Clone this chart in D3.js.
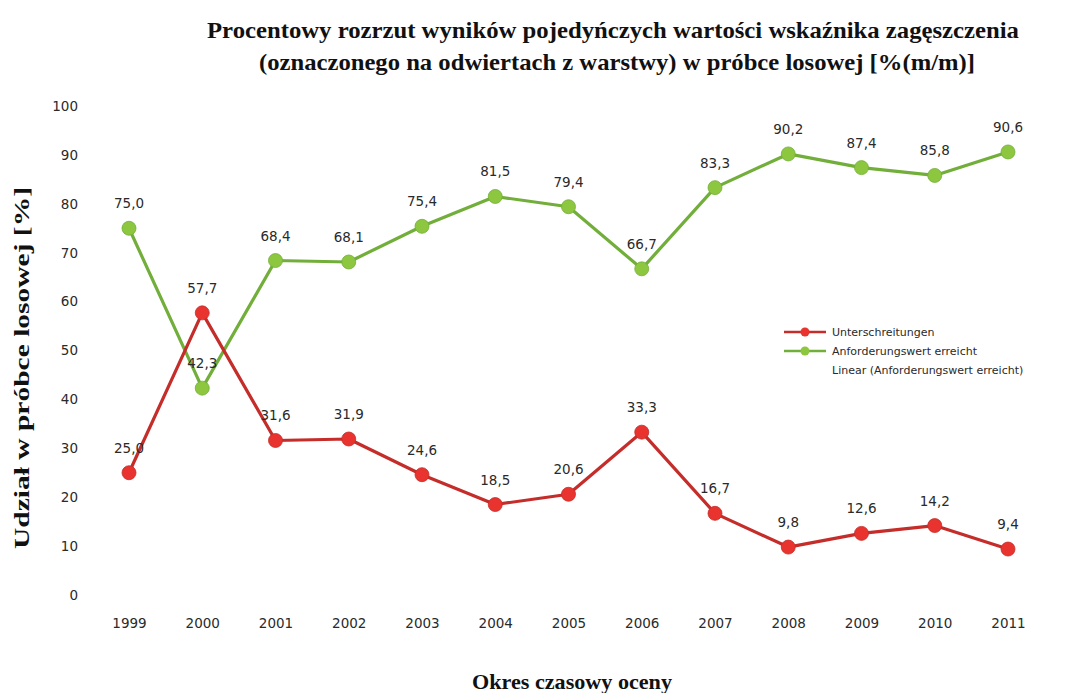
<!DOCTYPE html>
<html>
<head>
<meta charset="utf-8">
<script src="https://cdn.jsdelivr.net/npm/d3@7"></script>
<style>
  html, body { margin: 0; padding: 0; background: #fff; }
  svg { display: block; }
</style>
</head>
<body>
<svg id="chart" width="1067" height="693"></svg>
<script>
// Years of evaluation
const years = [1999, 2000, 2001, 2002, 2003, 2004, 2005, 2006, 2007, 2008, 2009, 2010, 2011];
// Share of samples below the requirement [%]
const unterschreitungen = [25.0, 57.7, 31.6, 31.9, 24.6, 18.5, 20.6, 33.3, 16.7, 9.8, 12.6, 14.2, 9.4];
// Share of samples meeting the requirement [%]
const anforderungErreicht = [75.0, 42.3, 68.4, 68.1, 75.4, 81.5, 79.4, 66.7, 83.3, 90.2, 87.4, 85.8, 90.6];
// Y axis tick values
const yTicks = [0, 10, 20, 30, 40, 50, 60, 70, 80, 90, 100];

const titleLines = [
  "Procentowy rozrzut wyników  pojedyńczych wartości wskaźnika  zagęszczenia",
  "(oznaczonego na odwiertach z warstwy)  w próbce losowej [%(m/m)]"
];
const yTitle = "Udział w próbce losowej [%]";
const xTitle = "Okres czasowy oceny";
const legendItems = ["Unterschreitungen", "Anforderungswert erreicht", "Linear (Anforderungswert erreicht)"];

const RED_LINE = "#c42d2a", RED_DOT = "#e8332f";
const GREEN_LINE = "#72ae3a", GREEN_DOT = "#8dc63f";
const TEXT = "#2a2a2a";
const SANS = "'DejaVu Sans', sans-serif";
const SERIF = "'Liberation Serif', 'Times New Roman', serif";

const svg = d3.select("#chart");

const x = d3.scalePoint().domain(years).range([129, 1008]);
const y = d3.scaleLinear().domain([0, 100]).range([595, 106]);

// Title
svg.append("g").selectAll("text").data(titleLines).join("text")
  .attr("x", (d, i) => i === 0 ? 613 : 617)
  .attr("y", (d, i) => 38 + i * 32)
  .attr("text-anchor", "middle")
  .attr("font-family", SERIF)
  .attr("font-weight", "bold")
  .attr("font-size", 23)
  .attr("fill", "#111")
  .attr("textLength", (d, i) => i === 0 ? 812 : 716)
  .attr("lengthAdjust", "spacingAndGlyphs")
  .text(d => d);

// Y axis
const yAxis = svg.append("g")
  .attr("transform", "translate(86,0)")
  .call(d3.axisLeft(y).tickValues(yTicks).tickSize(0).tickPadding(8).tickFormat(d3.format("d")));
yAxis.select(".domain").remove();
yAxis.selectAll("text")
  .attr("font-family", SANS).attr("font-size", 13.5).attr("fill", TEXT);

// X axis
const xAxis = svg.append("g")
  .attr("transform", "translate(0,612)")
  .call(d3.axisBottom(x).tickSize(0).tickPadding(6).tickFormat(d3.format("d")));
xAxis.select(".domain").remove();
xAxis.selectAll("text")
  .attr("font-family", SANS).attr("font-size", 13.5).attr("fill", TEXT);

// Axis titles
svg.append("text")
  .attr("transform", "translate(29,368) rotate(-90)")
  .attr("text-anchor", "middle")
  .attr("font-family", SERIF).attr("font-weight", "bold").attr("font-size", 22)
  .attr("fill", "#111")
  .attr("textLength", 362).attr("lengthAdjust", "spacingAndGlyphs")
  .text(yTitle);

svg.append("text")
  .attr("x", 572).attr("y", 689)
  .attr("text-anchor", "middle")
  .attr("font-family", SERIF).attr("font-weight", "bold").attr("font-size", 22)
  .attr("fill", "#111")
  .attr("textLength", 200).attr("lengthAdjust", "spacingAndGlyphs")
  .text(xTitle);

// Series
const series = [
  { name: legendItems[1], values: anforderungErreicht, line: GREEN_LINE, dot: GREEN_DOT },
  { name: legendItems[0], values: unterschreitungen, line: RED_LINE, dot: RED_DOT }
];

const lineGen = d3.line().x((d, i) => x(years[i])).y(d => y(d));

const fmt = v => d3.format(".1f")(v).replace(".", ",");

series.forEach(s => {
  svg.append("path")
    .datum(s.values)
    .attr("d", lineGen)
    .attr("fill", "none")
    .attr("stroke", s.line)
    .attr("stroke-width", 3.2)
    .attr("stroke-linejoin", "round");
});

series.forEach(s => {
  svg.append("g").selectAll("circle").data(s.values).join("circle")
    .attr("cx", (d, i) => x(years[i]))
    .attr("cy", d => y(d))
    .attr("r", 7)
    .attr("fill", s.dot)
    .attr("stroke", s.line)
    .attr("stroke-width", 0.8);
});

series.forEach(s => {
  svg.append("g").selectAll("text").data(s.values).join("text")
    .attr("x", (d, i) => x(years[i]))
    .attr("y", d => y(d) - 20)
    .attr("text-anchor", "middle")
    .attr("font-family", SANS).attr("font-size", 13.5).attr("fill", TEXT)
    .text(d => fmt(d));
});

// Legend
const legend = svg.append("g").attr("font-family", SANS).attr("font-size", 11).attr("fill", TEXT);
const legendRows = [
  { label: legendItems[0], line: RED_LINE, dot: RED_DOT, y: 332 },
  { label: legendItems[1], line: GREEN_LINE, dot: GREEN_DOT, y: 351 },
  { label: legendItems[2], line: null, dot: null, y: 370 }
];
legendRows.forEach(r => {
  if (r.line) {
    legend.append("line")
      .attr("x1", 784).attr("x2", 826).attr("y1", r.y).attr("y2", r.y)
      .attr("stroke", r.line).attr("stroke-width", 2.5);
    legend.append("circle")
      .attr("cx", 805).attr("cy", r.y).attr("r", 4.5)
      .attr("fill", r.dot);
  }
  legend.append("text")
    .attr("x", 832).attr("y", r.y + 4)
    .attr("fill", TEXT)
    .text(r.label);
});
</script>
</body>
</html>
